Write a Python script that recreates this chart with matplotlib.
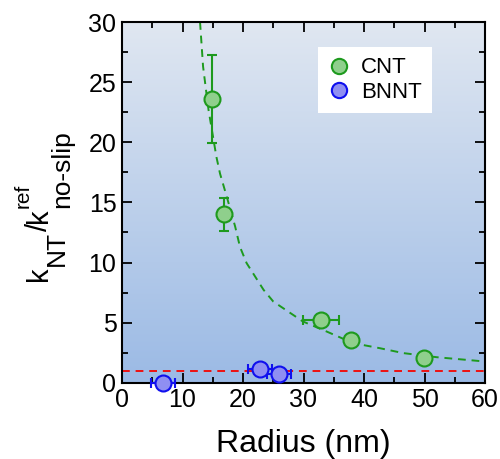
import numpy as np
import matplotlib
matplotlib.use("Agg")
import matplotlib.pyplot as plt
from matplotlib.colors import LinearSegmentedColormap
from matplotlib.lines import Line2D
from matplotlib.ticker import MultipleLocator

plt.rcParams["font.family"] = ["Liberation Sans", "DejaVu Sans"]

# ---------------------------------------------------------------------------
# Datos
# ---------------------------------------------------------------------------
cnt_r = [14.9, 16.9, 32.9, 37.9, 49.9]
cnt_k = [23.6, 14.0, 5.25, 3.6, 2.05]
cnt_kerr = [3.7, 1.4, 0.0, 0.0, 0.0]
cnt_rerr = [0.0, 0.0, 3.0, 0.0, 0.0]

bnnt_r = [6.8, 22.8, 25.9]
bnnt_k = [0.0, 1.15, 0.75]
bnnt_rerr = [2.0, 2.0, 2.0]

# curva de ajuste (puntos leídos)
fit_r = [12.9, 13.4, 14.3, 15.6, 16.2, 17.3, 18.7, 19.5, 20.6, 23.4, 25.0,
         29.9, 33.8, 38.2, 42.6, 46.5, 52.0, 60.0]
fit_k = [30.0, 26.3, 22.7, 18.8, 17.4, 15.5, 13.0, 11.3, 9.95, 7.73, 6.76,
         5.1, 4.27, 3.3, 2.88, 2.47, 2.13, 1.77]

no_slip_ref = 1.0

GREEN, GREEN_FILL = "#1e9a1e", "#8fcf8c"
BLUE, BLUE_FILL = "#1010ee", "#8f8ff2"

W, H = 500, 459
fig = plt.figure(figsize=(W / 100, H / 100), dpi=100)
ax = fig.add_axes([0.244, 0.166, 0.726, 0.786])

# fondo degradado
cmap = LinearSegmentedColormap.from_list("bg", ["#9bbae5", "#e0e7f1"])
grad = np.linspace(0, 1, 256).reshape(-1, 1)
ax.imshow(grad, extent=[0, 60, 0, 30], origin="lower", aspect="auto",
          cmap=cmap, zorder=0)

ax.plot(fit_r, fit_k, ls=(0, (4, 3)), color=GREEN, lw=1.4, zorder=2)
ax.axhline(no_slip_ref, ls=(0, (4, 3)), color="#ee1111", lw=1.4, zorder=2)

ax.errorbar(cnt_r, cnt_k, yerr=cnt_kerr, xerr=cnt_rerr, fmt="o", ms=11.5,
            mfc=GREEN_FILL, mec=GREEN, mew=1.5, ecolor=GREEN,
            elinewidth=1.5, capsize=3.5, capthick=1.5,
            zorder=4, clip_on=False)
ax.errorbar(bnnt_r, bnnt_k, xerr=bnnt_rerr, fmt="o", ms=11.5,
            mfc=BLUE_FILL, mec=BLUE, mew=1.5, ecolor=BLUE,
            elinewidth=1.5, capsize=3.5, capthick=1.5,
            zorder=4, clip_on=False)

ax.set_xlim(0, 60)
ax.set_ylim(0, 30)
ax.xaxis.set_major_locator(MultipleLocator(10))
ax.xaxis.set_minor_locator(MultipleLocator(5))
ax.yaxis.set_major_locator(MultipleLocator(5))
ax.yaxis.set_minor_locator(MultipleLocator(2.5))
ax.tick_params(which="both", direction="in", top=True, right=True,
               width=1.3, labelsize=18, pad=4)
ax.tick_params(which="major", length=7)
ax.tick_params(which="minor", length=4)
for s in ax.spines.values():
    s.set_linewidth(1.5)

ax.set_xlabel("Radius (nm)", fontsize=23, labelpad=12)

# etiqueta y montada a trozos (subíndices casi del tamaño del texto)
# (texto, tamaño, x línea base [px], inicio y [px desde arriba])
ylabel_parts = [
    ("k", 21, 47, 281),
    ("NT", 19, 64, 266),
    ("/", 21, 47, 231),
    ("k", 21, 47, 223),
    ("ref", 15, 29, 208),
    ("no-slip", 19, 69, 208),
]
for txt, size, xb, y0 in ylabel_parts:
    fig.text(xb / W, 1 - y0 / H, txt, fontsize=size, rotation=90,
             rotation_mode="anchor", ha="left", va="baseline")

handles = [
    Line2D([], [], ls="none", marker="o", ms=11, mfc=GREEN_FILL, mec=GREEN, mew=1.5),
    Line2D([], [], ls="none", marker="o", ms=11, mfc=BLUE_FILL, mec=BLUE, mew=1.5),
]
ax.legend(handles, ["CNT", "BNNT"], loc="upper left",
          bbox_to_anchor=(0.54, 0.93), fontsize=16,
          frameon=True, fancybox=False, edgecolor="none",
          framealpha=1.0, handletextpad=0.5, handlelength=1.0,
          borderpad=0.45, labelspacing=0.15, borderaxespad=0)

fig.savefig("out.png", dpi=100, facecolor="white")
